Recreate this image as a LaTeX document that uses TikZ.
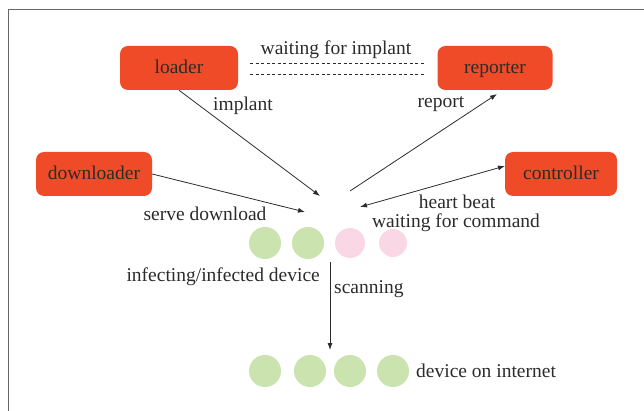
\documentclass[tikz,border=0pt]{standalone}
\usepackage{fontspec}
\setmainfont{Liberation Serif}
\usetikzlibrary{arrows.meta}
\definecolor{boxred}{HTML}{F04B29}
\definecolor{devgreen}{HTML}{CBE3AF}
\definecolor{devpink}{HTML}{F9D7E4}
\definecolor{ink}{HTML}{2B2B2B}
\definecolor{framegray}{HTML}{666666}
\begin{document}
\begin{tikzpicture}[x=1pt,y=-1pt,
  every node/.style={font=\fontsize{19.5}{21}\selectfont, text=ink},
  module/.style={fill=boxred, rounded corners=8pt, minimum height=44pt, inner sep=0pt,
                 text height=2.6ex, text depth=0pt},
  lbl/.style={inner sep=0pt, anchor=center},
  flow/.style={draw=ink, line width=0.8pt, -{Latex[length=7pt,width=5pt]}},
  twoway/.style={draw=ink, line width=0.8pt, {Latex[length=7pt,width=5pt]}-{Latex[length=7pt,width=5pt]}},
  green dev/.style={circle, fill=devgreen, minimum size=32pt, inner sep=0pt},
  pink dev/.style={circle, fill=devpink, minimum size=30pt, inner sep=0pt},
  waitline/.style={ink, dash pattern=on 3pt off 2.5pt, line width=0.7pt}]
\useasboundingbox (0,0) rectangle (644,411);
% outer frame (open at right and bottom)
\draw[framegray, line width=1pt] (8,411) -- (8,10) -- (644,10);

% modules
\node[module, minimum width=118pt] (loader) at (179,68) {loader};
\node[module, minimum width=115pt] (reporter) at (495,68) {reporter};
\node[module, minimum width=116pt] (downloader) at (94,174) {downloader};
\node[module, minimum width=112pt] (controller) at (561,174) {controller};

% waiting for implant (double dashed line)
\coordinate (wl) at (250,63);
\coordinate (wr) at (425,63);
\coordinate (wl2) at (250,74);
\coordinate (wr2) at (425,74);
\draw[waitline] (wl) -- (wr);
\draw[waitline] (wl2) -- (wr2);
\node[lbl] (wait) at (336,50) {waiting for implant};

% hub end points
\coordinate (implantEnd) at (320,196);
\coordinate (reportStart) at (350,191);
\coordinate (dlEnd) at (305,212);
\coordinate (hbEnd) at (360,207);
\coordinate (ctrlEnd) at (505,166);
\coordinate (repEnd) at (497,94);

\draw[flow] (loader.south) -- (implantEnd);
\node[lbl] (implant) at (243,106) {implant};
\draw[flow] (reportStart) -- (repEnd);
\node[lbl] (report) at (441,104) {report};
\draw[flow] (downloader.east) -- (dlEnd);
\node[lbl] (serve) at (205,214) {serve download};
\draw[twoway] (hbEnd) -- (ctrlEnd);
\node[lbl] (hb) at (457,202) {heart beat};
\node[lbl] (wfc) at (456,223) {waiting for command};

% infecting / infected devices
\node[green dev] (i1) at (265,243) {};
\node[green dev] (i2) at (308,243) {};
\node[pink dev] (i3) at (350,243) {};
\node[pink dev, minimum size=28pt] (i4) at (393,243) {};
\node[lbl, anchor=east] (infl) at (320,277) {infecting/infected device};

% scanning
\coordinate (scanStart) at (330,262);
\coordinate (scanEnd) at (330,350);
\draw[flow] (scanStart) -- (scanEnd);
\node[lbl, anchor=west] (scan) at (334,289) {scanning};

% devices on internet
\node[green dev] (d1) at (265,371) {};
\node[green dev] (d2) at (310,371) {};
\node[green dev] (d3) at (350,371) {};
\node[green dev] (d4) at (393,371) {};
\node[lbl, anchor=west] (net) at (416,371) {device on internet};
\end{tikzpicture}
\end{document}
